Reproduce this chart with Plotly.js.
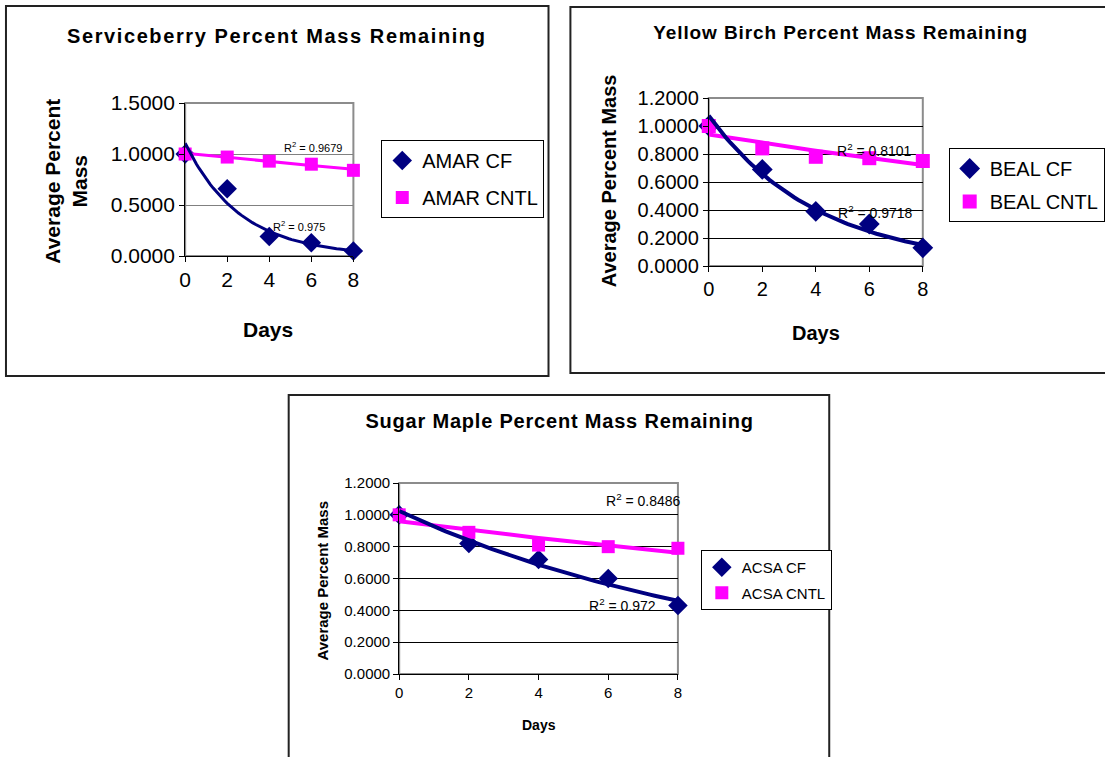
<!DOCTYPE html>
<html><head><meta charset="utf-8">
<script src="https://cdn.plot.ly/plotly-3.0.1.min.js"></script>
<style>html,body{margin:0;padding:0;background:#fff;overflow:hidden;width:1105px;height:757px}#chart{width:1105px;height:757px;display:block}</style>
</head><body><div id="chart"></div>
<script>
const days = [0, 2, 4, 6, 8];
const amarCF = [1.0, 0.66, 0.19, 0.13, 0.05];
const amarCNTL = [1.0, 0.97, 0.93, 0.90, 0.84];
const bealCF = [1.0, 0.69, 0.39, 0.30, 0.13];
const bealCNTL = [1.0, 0.84, 0.78, 0.77, 0.75];
const acsaCF = [1.0, 0.82, 0.72, 0.60, 0.43];
const acsaCNTL = [1.0, 0.89, 0.81, 0.80, 0.79];
const titles = ["Serviceberry Percent Mass Remaining", "Yellow Birch Percent Mass Remaining", "Sugar Maple Percent Mass Remaining"];
const seriesNames = [["AMAR CF", "AMAR CNTL"], ["BEAL CF", "BEAL CNTL"], ["ACSA CF", "ACSA CNTL"]];
const r2Labels = [["0.975", "0.9679"], ["0.9718", "0.8101"], ["0.972", "0.8486"]];
const yTitle = "Average Percent Mass";
const xTitle = "Days";

const W = 1105, H = 757;
const px = v => v / W, py = v => 1 - v / H;
const NAVY = "#000080", MAG = "#FF00FF";
const FONT = "Liberation Sans, Arial, sans-serif";

function expFit(xs, ys) {
  const n = xs.length; let sx = 0, sy = 0, sxx = 0, sxy = 0;
  for (let i = 0; i < n; i++) { const l = Math.log(ys[i]); sx += xs[i]; sy += l; sxx += xs[i] * xs[i]; sxy += xs[i] * l; }
  const b = (n * sxy - sx * sy) / (n * sxx - sx * sx);
  const a = Math.exp((sy - b * sx) / n);
  return { a, b };
}
function trend(xs, ys) {
  const f = expFit(xs, ys), tx = [], ty = [];
  const x0 = xs[0], x1 = xs[xs.length - 1];
  for (let i = 0; i <= 60; i++) { const x = x0 + (x1 - x0) * i / 60; tx.push(x); ty.push(f.a * Math.exp(f.b * x)); }
  return { x: tx, y: ty };
}

const charts = [
  { cf: amarCF, cn: amarCNTL, xa: "x", ya: "y", lg: "legend", ms: 13, lw: 3 },
  { cf: bealCF, cn: bealCNTL, xa: "x2", ya: "y2", lg: "legend2", ms: 14, lw: 4 },
  { cf: acsaCF, cn: acsaCNTL, xa: "x3", ya: "y3", lg: "legend3", ms: 13, lw: 4 }
];

const data = [];
charts.forEach((c, i) => {
  data.push({ x: days, y: c.cf, type: "scatter", mode: "markers", name: seriesNames[i][0], xaxis: c.xa, yaxis: c.ya, legend: c.lg, legendgroup: "g" + i + "a",
    marker: { symbol: "diamond", color: NAVY, size: c.ms + 2 }, cliponaxis: false, hoverinfo: "x+y" });
  data.push({ x: days, y: c.cn, type: "scatter", mode: "markers", name: seriesNames[i][1], xaxis: c.xa, yaxis: c.ya, legend: c.lg, legendgroup: "g" + i + "b",
    marker: { symbol: "square", color: MAG, size: c.ms }, cliponaxis: false, hoverinfo: "x+y" });
});
charts.forEach((c, i) => {
  const t1 = trend(days, c.cn), t2 = trend(days, c.cf);
  data.push({ x: t1.x, y: t1.y, type: "scatter", mode: "lines", showlegend: false, xaxis: c.xa, yaxis: c.ya, line: { color: MAG, width: c.lw }, cliponaxis: false, hoverinfo: "skip" });
  data.push({ x: t2.x, y: t2.y, type: "scatter", mode: "lines", showlegend: false, xaxis: c.xa, yaxis: c.ya, line: { color: NAVY, width: c.lw }, cliponaxis: false, hoverinfo: "skip" });
});

function xax(d, fs, anc) {
  return { domain: d, anchor: anc, range: [0, 8], dtick: 2, tick0: 0, showline: true, linecolor: "#000", linewidth: 1, ticks: "outside", ticklen: 5, tickcolor: "#000",
    showgrid: false, zeroline: false, tickfont: { family: FONT, size: fs, color: "#000" }, fixedrange: true };
}
function yax(d, max, dt, fs, gc, anc) {
  return { domain: d, anchor: anc, range: [0, max], dtick: dt, tick0: 0, tickformat: ".4f", showline: true, linecolor: "#000", linewidth: 1, ticks: "outside", ticklen: 5, tickcolor: "#000",
    showgrid: true, gridcolor: gc, gridwidth: 1, zeroline: false, tickfont: { family: FONT, size: fs, color: "#000" }, fixedrange: true };
}
function legend(x, y, fs, gap) {
  return { x: px(x), y: py(y), xanchor: "left", yanchor: "top", bordercolor: "#000", borderwidth: 1, bgcolor: "#fff",
    font: { family: FONT, size: fs, color: "#000" }, traceorder: "grouped", tracegroupgap: gap, itemwidth: 30 };
}
function ann(x, y, text, size, bold, angle) {
  return { xref: "paper", yref: "paper", x: px(x), y: py(y), xanchor: "center", yanchor: "middle", showarrow: false, textangle: angle || 0,
    text: bold ? "<b>" + text + "</b>" : text, font: { family: FONT, size: size, color: "#000" } };
}
function r2(xa, ya, x, y, val, size) {
  return { xref: xa, yref: ya, x: x, y: y, xanchor: "center", yanchor: "middle", showarrow: false, text: "R<sup>2</sup> = " + val,
    font: { family: FONT, size: size, color: "#000" } };
}
function box(x0, y0, x1, y1) {
  return { type: "rect", xref: "paper", yref: "paper", x0: px(x0), x1: px(x1), y0: py(y1), y1: py(y0), line: { color: "#222", width: 2 }, fillcolor: "rgba(0,0,0,0)" };
}
function border(xa, ya) {
  return { type: "rect", xref: xa + " domain", yref: ya + " domain", x0: 0, x1: 1, y0: 0, y1: 1, line: { color: "#8c8c8c", width: 2 }, layer: "below" };
}

const layout = {
  width: W, height: H, margin: { l: 0, r: 0, t: 0, b: 0 }, paper_bgcolor: "#fff", plot_bgcolor: "#fff", showlegend: true,
  font: { family: FONT, color: "#000" },
  xaxis: xax([px(186), px(355)], 21, "y"), yaxis: yax([py(256), py(103)], 1.5, 0.5, 21, "#808080", "x"),
  xaxis2: xax([px(712), px(927)], 20, "y2"), yaxis2: yax([py(266), py(98)], 1.2, 0.2, 20, "#000", "x2"),
  xaxis3: xax([px(401), px(681)], 15, "y3"), yaxis3: yax([py(674), py(483)], 1.2, 0.2, 15, "#000", "x3"),
  legend: legend(383, 140, 20, 8),
  legend2: legend(953, 148, 20, 4),
  legend3: legend(704, 550, 15, 3),
  shapes: [box(6, 6, 551, 376), box(573, 7, 1112, 373), box(290, 395, 833, 765), border("x", "y"), border("x2", "y2"), border("x3", "y3")],
  annotations: [
    ann(278, 36, titles[0], 20, true), ann(844, 33, titles[1], 19, true), ann(562, 421, titles[2], 20, true),
    ann(66, 181, "Average Percent<br>Mass", 21, true, -90), ann(612, 181, yTitle, 20, true, -90), ann(323, 581, yTitle, 15, true, -90),
    ann(269, 330, xTitle, 21, true), ann(820, 333, xTitle, 20, true), ann(541, 725, xTitle, 14, true),
    r2("x", "y", 6.1, 1.07, r2Labels[0][1], 11), r2("x", "y", 5.4, 0.29, r2Labels[0][0], 11),
    r2("x2", "y2", 6.2, 0.83, r2Labels[1][1], 14), r2("x2", "y2", 6.25, 0.385, r2Labels[1][0], 14),
    r2("x3", "y3", 7.0, 1.095, r2Labels[2][1], 14), r2("x3", "y3", 6.4, 0.435, r2Labels[2][0], 14)
  ]
};
const spacing = { 0: "1.6px", 1: "0.9px", 2: "0.8px" };
Plotly.newPlot("chart", data, layout, { displayModeBar: false, staticPlot: true }).then(gd => {
  Object.keys(spacing).forEach(k => {
    const g = gd.querySelector('g.annotation[data-index="' + k + '"] text');
    if (g) g.style.letterSpacing = spacing[k];
  });
});
</script></body></html>
